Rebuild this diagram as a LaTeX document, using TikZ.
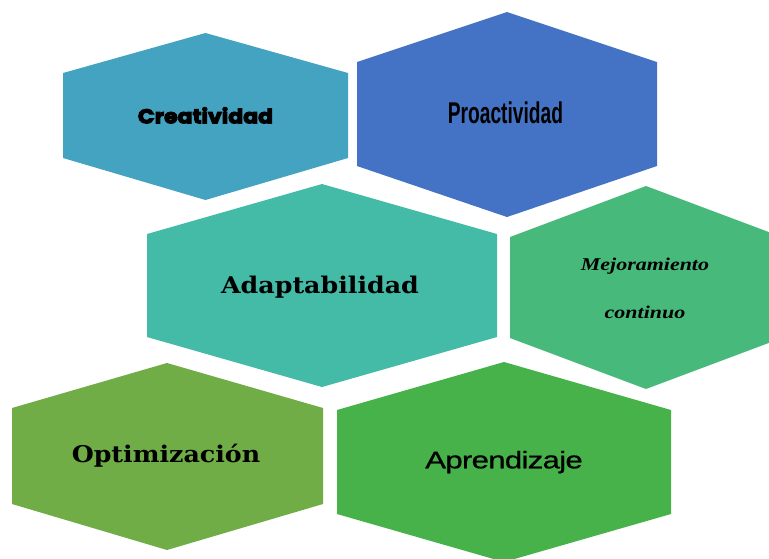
\documentclass[tikz,border=0pt]{standalone}
\usepackage{fontspec}
% fonts for the hexagon labels
\newfontfamily\creafont[FakeStretch=1.1,FakeBold=5]{Poppins}
\newfontfamily\proafont[FakeStretch=0.64]{Liberation Sans}
\newfontfamily\slabfont[FakeStretch=1.1]{DejaVu Serif}
\newfontfamily\mejofont[FakeStretch=1.22]{Liberation Serif}
\newfontfamily\aprefont[FakeStretch=1.3,LetterSpace=-3,FakeBold=0.8]{Liberation Sans}
% hexagon colours
\definecolor{creablue}{HTML}{43A3C0}
\definecolor{proablue}{HTML}{4472C4}
\definecolor{adapteal}{HTML}{44BBA6}
\definecolor{mejogreen}{HTML}{47B97A}
\definecolor{optigreen}{HTML}{70AD47}
\definecolor{apregreen}{HTML}{47B24A}
\begin{document}
\begin{tikzpicture}[x=1pt, y=-1pt, hexlabel/.style={inner sep=0pt, text=black, anchor=base}]
    \clip (0,0) rectangle (769,558);

    % Top row
    \fill[creablue] (63,73) -- (205.5,33) -- (348,73) -- (348,158) -- (205.5,200) -- (63,158) -- cycle;
    \fill[proablue] (357,62) -- (507,12) -- (657,62) -- (657,166) -- (507,217) -- (357,166) -- cycle;

    % Middle row
    \fill[adapteal] (147,234) -- (322,184) -- (497,234) -- (497,337) -- (322,387) -- (147,337) -- cycle;
    \fill[mejogreen] (510,237) -- (646,186) -- (782,237) -- (782,338) -- (646,389) -- (510,338) -- cycle;

    % Bottom row
    \fill[optigreen] (12,408) -- (167,363) -- (323,408) -- (323,504) -- (167,550) -- (12,504) -- cycle;
    \fill[apregreen] (337,410) -- (504,362) -- (671,410) -- (671,514) -- (504,562) -- (337,514) -- cycle;

    % Labels
    \node[hexlabel, font=\creafont\bfseries\fontsize{20}{22}\selectfont] (crea) at (205.5,123.3) {Creatividad};
    \node[hexlabel, font=\proafont\bfseries\fontsize{30}{32}\selectfont] (proa) at (505.5,123.3) {Proactividad};
    \node[hexlabel, font=\slabfont\bfseries\fontsize{23}{25}\selectfont] (adap) at (320,293.3) {Adaptabilidad};
    \node[anchor=center, inner sep=0pt, align=center, font=\mejofont\bfseries\itshape\fontsize{18}{48}\selectfont] (mejo) at (645,288.5) {Mejoramiento\\continuo};
    \node[hexlabel, font=\slabfont\bfseries\fontsize{23}{25}\selectfont] (opti) at (166,462.7) {Optimización};
    \node[hexlabel, font=\aprefont\fontsize{24}{26}\selectfont] (apre) at (504,468.3) {Aprendizaje};
\end{tikzpicture}
\end{document}
